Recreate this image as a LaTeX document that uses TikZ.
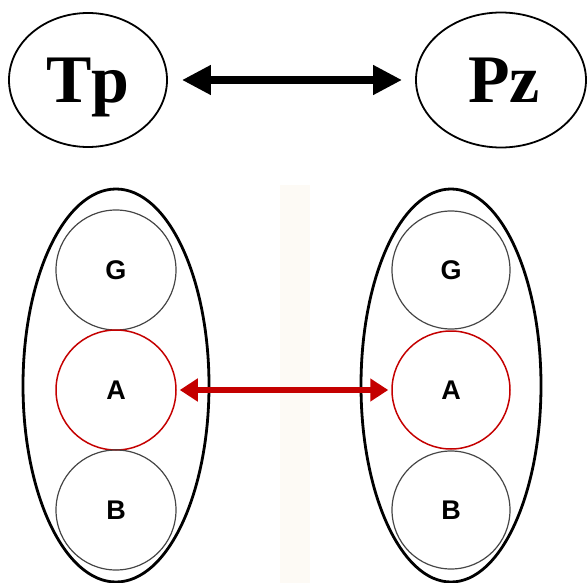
\documentclass[tikz,border=0pt]{standalone}
\usepackage{fontspec}
\setmainfont{Liberation Serif}
\newfontfamily\labelfont{Liberation Sans}
\usetikzlibrary{shapes.geometric,arrows.meta}
\definecolor{darkred}{RGB}{196,0,0}
\definecolor{ringgray}{RGB}{70,70,70}
\definecolor{paper}{RGB}{253,250,245}
\tikzset{
  topoval/.style={draw=black, line width=1.8pt, ellipse, inner sep=0pt,
    text height=45pt, text depth=0pt,
    font=\fontsize{68}{70}\selectfont\bfseries},
  group/.style={draw=black, line width=2.8pt, ellipse, inner sep=0pt},
  unit/.style={draw=ringgray, line width=1.2pt, circle, inner sep=0pt,
    text height=19.5pt, text depth=0pt,
    font=\labelfont\fontsize{27}{28}\selectfont\bfseries},
  keyunit/.style={unit, draw=darkred, line width=1.5pt},
  bigarrow/.style={line width=7.5pt, {Triangle[length=29pt,width=28pt]}-{Triangle[length=29pt,width=28pt]}},
  redarrow/.style={darkred, line width=6pt, {Triangle[length=18pt,width=22pt]}-{Triangle[length=18pt,width=22pt]}}
}
\begin{document}
\begin{tikzpicture}[x=1pt,y=-1pt]
  \useasboundingbox (0,0) rectangle (587,583);
  % faint vertical band between the two groups
  \fill[paper] (280,185) rectangle (310,583);

  % upper pair
  \node[topoval, minimum width=158pt, minimum height=134pt] (tp) at (88,80) {Tp};
  \node[topoval, minimum width=170pt, minimum height=135pt] (pz) at (501,80)
    {\hspace*{6pt}Pz};
  \draw[bigarrow, shorten <=14pt, shorten >=13pt] (tp.east) -- (pz.west);

  % left group
  \node[group, minimum width=186pt, minimum height=393pt] (lgrp) at (116,385.5) {};
  \node[unit, minimum size=120pt] (lg) at (116,270) {G};
  \node[keyunit, minimum size=120pt] (la) at (116,390) {A};
  \node[unit, minimum size=120pt] (lb) at (116,510) {B};

  % right group
  \node[group, minimum width=180pt, minimum height=393pt] (rgrp) at (451,385.5) {};
  \node[unit, minimum size=118pt] (rg) at (451,270) {G};
  \node[keyunit, minimum size=118pt] (ra) at (451,390) {A};
  \node[unit, minimum size=118pt] (rb) at (451,510) {B};

  \draw[redarrow, shorten <=3pt, shorten >=3pt] (la.east) -- (ra.west);
\end{tikzpicture}
\end{document}
